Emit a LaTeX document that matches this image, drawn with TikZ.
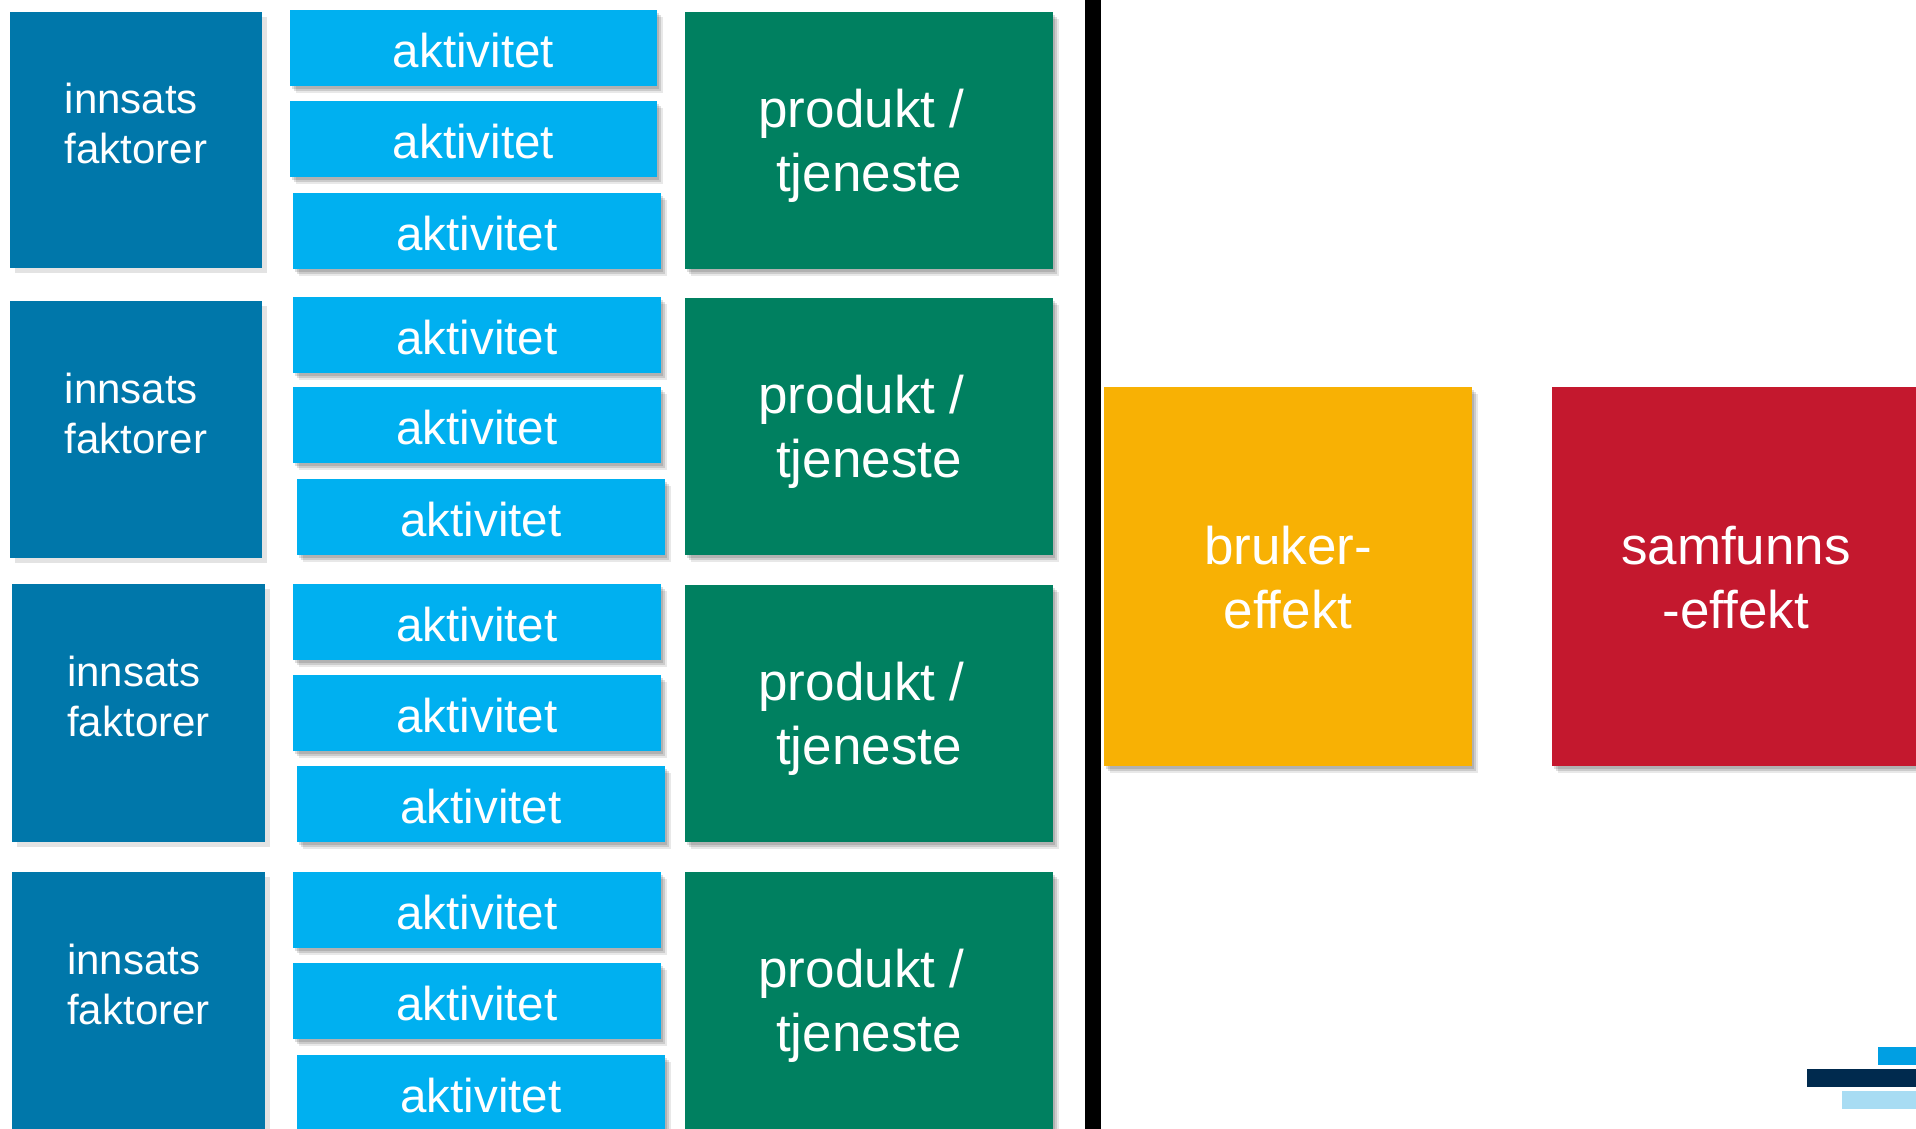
\documentclass[tikz,border=0pt]{standalone}
\usepackage{fontspec}
\setmainfont{Liberation Sans}
\usetikzlibrary{shadows}
\definecolor{inncol}{HTML}{0077AA}
\definecolor{aktcol}{HTML}{00B0F0}
\definecolor{prodcol}{HTML}{008060}
\definecolor{brukcol}{HTML}{F8B104}
\definecolor{samcol}{HTML}{C4182E}
\definecolor{shadegrey}{HTML}{E3E3E3}
\definecolor{logoA}{HTML}{009FE3}
\definecolor{logoB}{HTML}{002A4E}
\definecolor{logoC}{HTML}{A8DCF3}
\tikzset{
  box/.style={rectangle, inner sep=0pt, outer sep=0pt, anchor=north west, draw=none},
  softshadow/.style={
    drop shadow={shadow xshift=2pt, shadow yshift=-3pt, opacity=.13, fill=black},
    drop shadow={shadow xshift=4pt, shadow yshift=-5pt, opacity=.12, fill=black},
    drop shadow={shadow xshift=6pt, shadow yshift=-7pt, opacity=.09, fill=black}},
  innbox/.style={box, fill=inncol, drop shadow={shadow xshift=5pt, shadow yshift=-5pt, fill=shadegrey, opacity=1}},
  aktbox/.style={box, fill=aktcol, softshadow},
  prodbox/.style={box, fill=prodcol, softshadow},
  brukbox/.style={box, fill=brukcol, softshadow},
  sambox/.style={box, fill=samcol, softshadow},
  logobar/.style={box},
  inntext/.style={text=white, align=left, inner sep=0pt, yshift=16.5pt,
    font=\fontsize{42}{50}\selectfont},
  akttext/.style={text=white, inner sep=0pt, yshift=-2.5pt, font=\fontsize{47.5}{57}\selectfont},
  prodtext/.style={text=white, align=center, inner sep=0pt, yshift=-5pt,
    font=\fontsize{53}{64}\selectfont},
  efftext/.style={text=white, align=center, inner sep=0pt, yshift=-1.5pt,
    font=\fontsize{53}{64}\selectfont},
}
\newcommand\mkbox[6]{\node[#1, minimum width={(#5-#3)*1pt}, minimum height={(#6-#4)*1pt}] (#2) at (#3,#4) {};}
\begin{document}
\begin{tikzpicture}[x=1pt, y=-1pt]
\useasboundingbox (0,0) rectangle (1916,1129);
\clip (0,0) rectangle (1916,1129);
\fill[white] (0,0) rectangle (1916,1129);

% row 1
\mkbox{innbox}{inn1}{10}{12}{262}{268}
\mkbox{aktbox}{akt1a}{290}{10}{657}{86}
\mkbox{aktbox}{akt1b}{290}{101}{657}{177}
\mkbox{aktbox}{akt1c}{293}{193}{661}{269}
\mkbox{prodbox}{prod1}{685}{12}{1053}{269}
% row 2
\mkbox{innbox}{inn2}{10}{301}{262}{558}
\mkbox{aktbox}{akt2a}{293}{297}{661}{373}
\mkbox{aktbox}{akt2b}{293}{387}{661}{463}
\mkbox{aktbox}{akt2c}{297}{479}{665}{555}
\mkbox{prodbox}{prod2}{685}{298}{1053}{555}
% row 3
\mkbox{innbox}{inn3}{12}{584}{265}{842}
\mkbox{aktbox}{akt3a}{293}{584}{661}{660}
\mkbox{aktbox}{akt3b}{293}{675}{661}{751}
\mkbox{aktbox}{akt3c}{297}{766}{665}{842}
\mkbox{prodbox}{prod3}{685}{585}{1053}{842}
% row 4
\mkbox{innbox}{inn4}{12}{872}{265}{1129}
\mkbox{aktbox}{akt4a}{293}{872}{661}{948}
\mkbox{aktbox}{akt4b}{293}{963}{661}{1039}
\mkbox{aktbox}{akt4c}{297}{1055}{665}{1131}
\mkbox{prodbox}{prod4}{685}{872}{1053}{1129}

% divider
\fill[black] (1085,-5) rectangle (1101,1135);

% effects
\mkbox{brukbox}{bruker}{1104}{387}{1472}{766}
\mkbox{sambox}{samfunn}{1552}{387}{1920}{766}

% logo
\mkbox{logobar, fill=logoA}{logoA}{1878}{1047}{1920}{1065}
\mkbox{logobar, fill=logoB}{logoB}{1807}{1069}{1920}{1087}
\mkbox{logobar, fill=logoC}{logoC}{1842}{1091}{1920}{1109}

% texts
\foreach \r in {1,2,3,4}{
  \node[inntext] (inn\r t) at (inn\r.center) {innsats\\faktorer};
  \foreach \c in {a,b,c}{
    \node[akttext] (akt\r\c t) at (akt\r\c.center) {aktivitet};
  }
  \node[prodtext] (prod\r t) at (prod\r.center) {produkt /\hspace*{0.278em}\\tjeneste};
}
\node[efftext] (brukert) at (bruker.center) {bruker-\\effekt};
\node[efftext] (samfunnt) at (samfunn.center) {samfunns\\-effekt};
\end{tikzpicture}
\end{document}
